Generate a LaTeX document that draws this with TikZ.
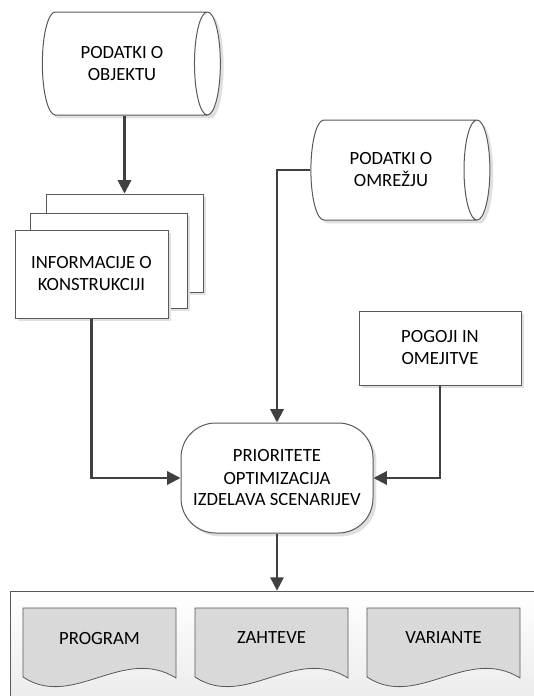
\documentclass[tikz,border=0pt]{standalone}
\usepackage{fontspec}
\setmainfont{Carlito}
\usetikzlibrary{shapes.geometric,arrows.meta,shadows}
\definecolor{linegray}{HTML}{595959}
\definecolor{arrowgray}{HTML}{404040}
\definecolor{docgray}{HTML}{D9D9D9}

\begin{document}
\begin{tikzpicture}[x=0.75pt,y=-0.75pt,
    font=\fontsize{14}{16.5}\selectfont,
    block/.style={draw=linegray,line width=0.75pt,fill=white,align=center,
      drop shadow={shadow xshift=2.5pt,shadow yshift=-2.5pt,fill=black!12,opacity=1}},
    flow/.style={draw=arrowgray,line width=1.6pt,-{Triangle[length=10pt,width=10pt]}}]

  \useasboundingbox (0,0) rectangle (534,696);

  \begin{scope}[every node/.style={block}]
    \node[cylinder,shape aspect=0.6,minimum height=133.5pt,minimum width=77.25pt] (objekt) at (122,63.5) {PODATKI O\\OBJEKTU};
    \node[cylinder,shape aspect=0.6,minimum height=134.25pt,minimum width=75pt] (omrezje) at (391,170) {PODATKI O\\OMREŽJU};
    \node[minimum width=117.75pt,minimum height=73.5pt] (info3) at (124.5,243) {};
    \node[minimum width=117.75pt,minimum height=71.25pt] (info2) at (108.5,260.5) {};
    \node[minimum width=114.75pt,minimum height=66pt] (info1) at (91.5,274) {INFORMACIJE O\\KONSTRUKCIJI};
    \node[minimum width=121.5pt,minimum height=55.5pt] (pogoji) at (440,348) {POGOJI IN\\OMEJITVE};
    \node[rounded corners=26pt,minimum width=144pt,minimum height=82.5pt] (scenarij) at (277,478) {PRIORITETE\\OPTIMIZACIJA\\IZDELAVA SCENARIJEV};
  \end{scope}

  \node[draw=linegray,line width=0.6pt,top color=white,bottom color=black!8,
    minimum width=401.25pt,minimum height=85.5pt] (izhod) at (277.5,648) {};

  \foreach \x/\name/\txt in {23/program/PROGRAM, 195/zahteve/ZAHTEVE, 367/variante/VARIANTE} {
    \draw[draw=linegray,line width=0.6pt,fill=docgray]
      (\x,608) -- (\x,677) .. controls (\x+50,710) and (\x+100,645) .. (\x+153,678) -- (\x+153,608) -- cycle;
    \node (\name) at (\x+76.5,638) {\txt};
  }

  \path[flow] (objekt.south -| info3.north) -- (info3.north);
  \path[flow] (info1.south) |- (scenarij.west);
  \path[flow] (omrezje.west) -| (scenarij.north);
  \path[flow] (pogoji.south) |- (scenarij.east);
  \path[flow] (scenarij.south) -- (scenarij.south |- izhod.north);

\end{tikzpicture}
\end{document}
